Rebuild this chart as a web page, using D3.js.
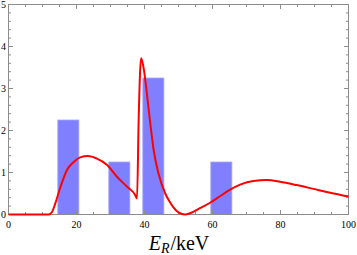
<!DOCTYPE html>
<html>
<head>
<script src="https://d3js.org/d3.v7.min.js"></script>
<style type="text/css">
	body{ margin:0; background:white; }
	.frame{ fill:none; stroke:#8c8c8c; stroke-width:1; }
	.tick{ stroke:#8c8c8c; stroke-width:1; }
	.ticklabel{ font-family:"Liberation Serif", serif; font-size:10px; fill:black; }
	.bar{ fill:#8080ff; stroke:#a6a6ff; stroke-width:0.8; }
	.rate{ fill:none; stroke:red; stroke-width:2; }
</style>
</head>
<body>
<svg id="chart" width="357" height="255"></svg>
<script>
	// histogram bins (keV) and counts
	var binStart = [14.5, 29.5, 39.5, 59.5];
	var binWidth = 6.2;
	var binCount = [2.25, 1.25, 3.25, 1.25];

	// recoil spectrum
	var energy = [0, 5, 10, 11.8, 12.8, 13.8, 15.3, 17.2, 19.2, 21.1, 23.3, 26, 29, 31.9, 34.9, 37.3, 37.8,
		38.3, 39.0, 39.7, 40.7, 41.7, 42.7, 44.1, 46.1, 47.6, 48.5, 50, 51.9, 53.4, 56.3, 59.3, 62.3, 65.2,
		68.1, 72, 76, 79.9, 84.8, 89.7, 94.6, 100];
	var rate = [0, 0, 0, 0, 0.06, 0.27, 0.66, 1.06, 1.25, 1.36, 1.39, 1.33, 1.18, 0.9, 0.66, 0.46, 0.38,
		2.32, 3.72, 3.51, 2.88, 2.17, 1.53, 0.98, 0.5, 0.28, 0.17, 0.05, 0, 0.03, 0.15, 0.28, 0.44, 0.59,
		0.71, 0.8, 0.82, 0.78, 0.7, 0.61, 0.52, 0.43];

	var xMajor = [0, 20, 40, 60, 80, 100];
	var yMajor = [0, 1, 2, 3, 4, 5];

	var svg = d3.select("#chart");
	var x = d3.scaleLinear().domain([0, 100]).range([8.5, 348.5]);
	var y = d3.scaleLinear().domain([0, 5]).range([214.5, 4.5]);

	// bars
	svg.selectAll(".bar").data(binStart)
		.enter()
		.append("rect")
		.attr("class", "bar")
		.attr("x", function(d){ return x(d); })
		.attr("width", x(binWidth) - x(0))
		.attr("y", function(d, i){ return y(binCount[i]); })
		.attr("height", function(d, i){ return y(0) - y(binCount[i]); });

	// frame ticks
	var xMinor = d3.range(0, 100.1, 5);
	var yMinor = d3.range(0, 5.01, 0.2);
	var g = svg.append("g");
	xMinor.forEach(function(v){
		var len = (v % 20 === 0) ? 4.5 : 2.5;
		g.append("line").attr("class", "tick")
			.attr("x1", x(v)).attr("x2", x(v)).attr("y1", y(0)).attr("y2", y(0) - len);
		g.append("line").attr("class", "tick")
			.attr("x1", x(v)).attr("x2", x(v)).attr("y1", y(5)).attr("y2", y(5) + len);
	});
	yMinor.forEach(function(v){
		var major = Math.abs(v - Math.round(v)) < 1e-6;
		var len = major ? 4.5 : 2.5;
		g.append("line").attr("class", "tick")
			.attr("x1", x(0)).attr("x2", x(0) + len).attr("y1", y(v)).attr("y2", y(v));
		g.append("line").attr("class", "tick")
			.attr("x1", x(100)).attr("x2", x(100) - len).attr("y1", y(v)).attr("y2", y(v));
	});

	svg.append("rect").attr("class", "frame")
		.attr("x", x(0)).attr("y", y(5))
		.attr("width", x(100) - x(0)).attr("height", y(0) - y(5));

	// tick labels
	svg.selectAll(".xl").data(xMajor).enter()
		.append("text").attr("class", "ticklabel")
		.attr("x", function(d){ return x(d); })
		.attr("y", 228)
		.attr("text-anchor", "middle")
		.text(function(d){ return d; });
	svg.selectAll(".yl").data(yMajor).enter()
		.append("text").attr("class", "ticklabel")
		.attr("x", 6)
		.attr("y", function(d){ return y(d) + 3.5; })
		.attr("text-anchor", "end")
		.text(function(d){ return d; });

	// spectrum
	var line = d3.line()
		.x(function(d, i){ return x(energy[i]); })
		.y(function(d){ return y(d); })
		.curve(d3.curveMonotoneX);
	svg.append("path").datum(rate).attr("class", "rate").attr("d", line);

	// axis title
	var t = svg.append("text")
		.attr("x", 179).attr("y", 250)
		.attr("text-anchor", "middle")
		.style("font-family", "Liberation Serif, serif")
		.style("font-size", "20px");
	t.append("tspan").style("font-style", "italic").text("E");
	t.append("tspan").style("font-style", "italic").style("font-size", "14px").attr("dy", 3).text("R");
	t.append("tspan").attr("dy", -3).attr("dx", 1).text("/keV");
</script>
</body>
</html>
